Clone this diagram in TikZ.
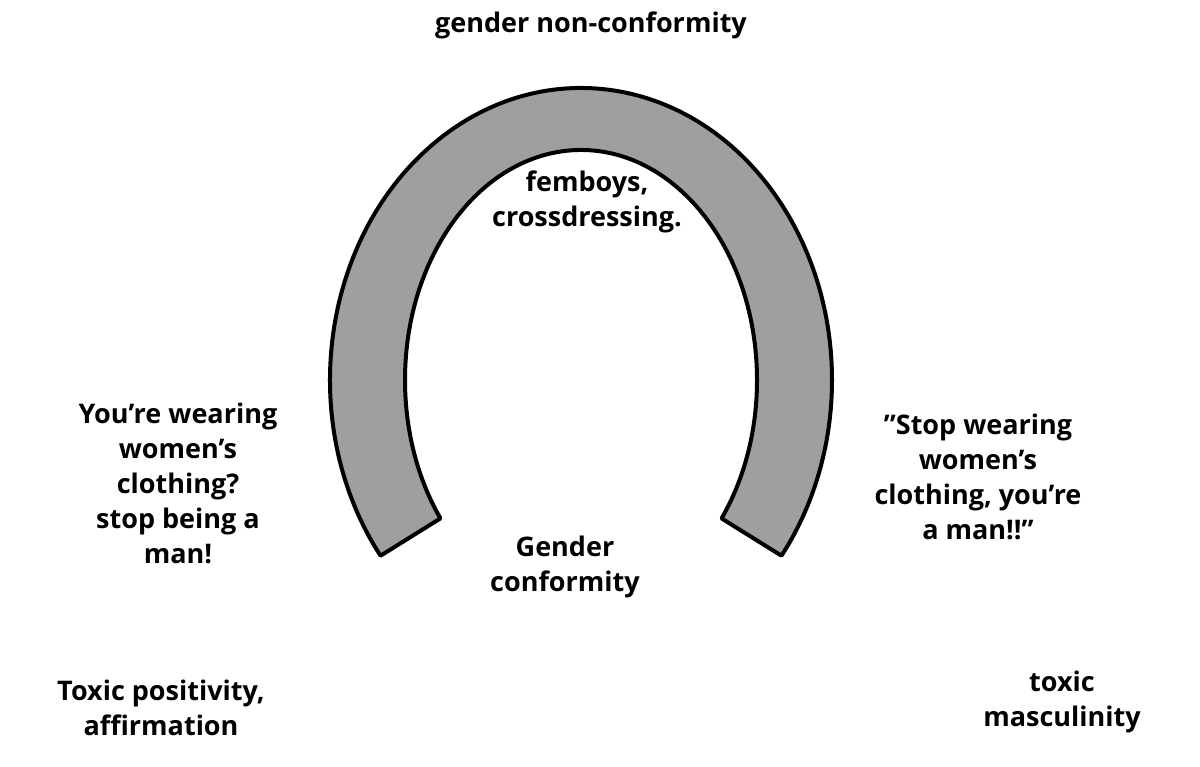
\documentclass[tikz,border=0pt]{standalone}
\usepackage{fontspec}
\setmainfont{Open Sans}
\usetikzlibrary{calc}
\begin{document}
\begin{tikzpicture}[x=1pt, y=1pt,
    lbl/.style={align=center, font=\fontsize{27}{35}\selectfont\bfseries, inner sep=0pt},
    shoe/.style={draw=black, line width=4pt, fill=gray!75, line join=round}
]
\useasboundingbox (0,0) rectangle (1200,767);

% Horseshoe
\draw[shoe] (581,387) ++(217:251 and 292)
    arc[start angle=217, end angle=-37, x radius=251, y radius=292]
    -- ($(581,387)+(-37:176 and 230)$)
    arc[start angle=-37, end angle=217, x radius=176, y radius=230]
    -- cycle;

% Labels
\node[lbl] (top) at (591,742) {gender non-conformity};
\node[lbl] (inner) at (587,565) {femboys,\\crossdressing.};
\node[lbl] (left) at (178,284) {You're wearing\\women's\\clothing?\\stop being a\\man!};
\node[lbl] (right) at (978,290) {"Stop wearing\\women's\\clothing, you're\\a man!!"};
\node[lbl] (bottom) at (565,200) {Gender\\conformity};
\node[lbl] (posit) at (161,59) {Toxic positivity,\\affirmation};
\node[lbl] (mascu) at (1062,65) {toxic\\masculinity};
\end{tikzpicture}
\end{document}
